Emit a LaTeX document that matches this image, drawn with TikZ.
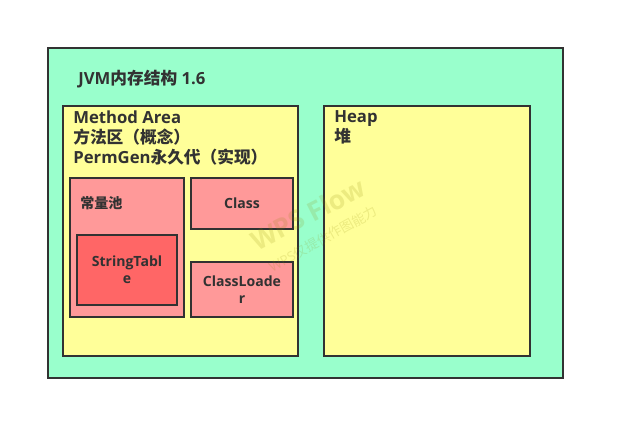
\documentclass[tikz,border=0pt]{standalone}
\usepackage{fontspec}
\usepackage{xcolor}
\setmainfont{Open Sans}
\newfontfamily\cjk{Noto Sans CJK SC}
\definecolor{jvmgreen}{HTML}{99FFCC}
\definecolor{areayellow}{HTML}{FFFF99}
\definecolor{poolred}{HTML}{FF9999}
\definecolor{tablered}{HTML}{FF6666}
\definecolor{inkgrey}{HTML}{323232}
\usetikzlibrary{positioning}
\tikzset{
    box/.style={draw=inkgrey, line width=0.95pt, anchor=north west, inner sep=0pt, outer sep=0pt},
    bigtext/.style={text=inkgrey, font=\bfseries\fontsize{9.5}{11.5}\selectfont, anchor=north west, inner sep=0pt, align=left},
    smalltext/.style={text=inkgrey, font=\bfseries\fontsize{8}{9.6}\selectfont, inner sep=0pt, align=center},
    watermark/.style={text=olive, opacity=0.16, inner sep=0pt}
}
\begin{document}
\begin{tikzpicture}[x=0.02cm, y=-0.02cm]
    \useasboundingbox (0,0) rectangle (625,440);
    % Outer frame
    \node[box, fill=jvmgreen, minimum width=10.3cm, minimum height=6.6cm] (jvm) at (48,48) {};
    \node[bigtext] (title) at (78,70) {JVM{\cjk 内存结构} 1.6};

    % Method area
    \node[box, fill=areayellow, minimum width=4.7cm, minimum height=5cm] (method) at (63,106) {};
    \node[bigtext] (methodtext) at (73,110) {Method Area\\{\cjk 方法区（概念）}\\PermGen{\cjk 永久代（实现）}};

    % Inside method area
    \node[box, fill=poolred, minimum width=2.28cm, minimum height=2.78cm] (pool) at (70,178) {};
    \node[smalltext, anchor=west] (pooltext) at (80,203) {\cjk 常量池};
    \node[box, fill=tablered, minimum width=2cm, minimum height=1.4cm] (table) at (77,235) {};
    \node[smalltext] (tabletext) at (127,270) {StringTabl\\e};
    \node[box, fill=poolred, minimum width=2.04cm, minimum height=1.02cm] (class) at (191,178) {};
    \node[smalltext] (classtext) at (242,203) {Class};
    \node[box, fill=poolred, minimum width=2.04cm, minimum height=1.1cm] (loader) at (191,262) {};
    \node[smalltext] (loadertext) at (242,290) {ClassLoade\\r};

    % Heap
    \node[box, fill=areayellow, minimum width=4.12cm, minimum height=5cm] (heap) at (324,106) {};
    \node[bigtext] (heaptext) at (334,110) {Heap\\{\cjk 堆}};

    % Watermark
    \node[watermark, rotate=27, font=\bfseries\fontsize{15}{15}\selectfont] (flow) at (308,214) {WPS Flow};
    \node[watermark, rotate=29, font=\fontsize{7.6}{8}\selectfont] (only) at (323,239) {WPS{\cjk 仅提供作图能力}};
\end{tikzpicture}
\end{document}
